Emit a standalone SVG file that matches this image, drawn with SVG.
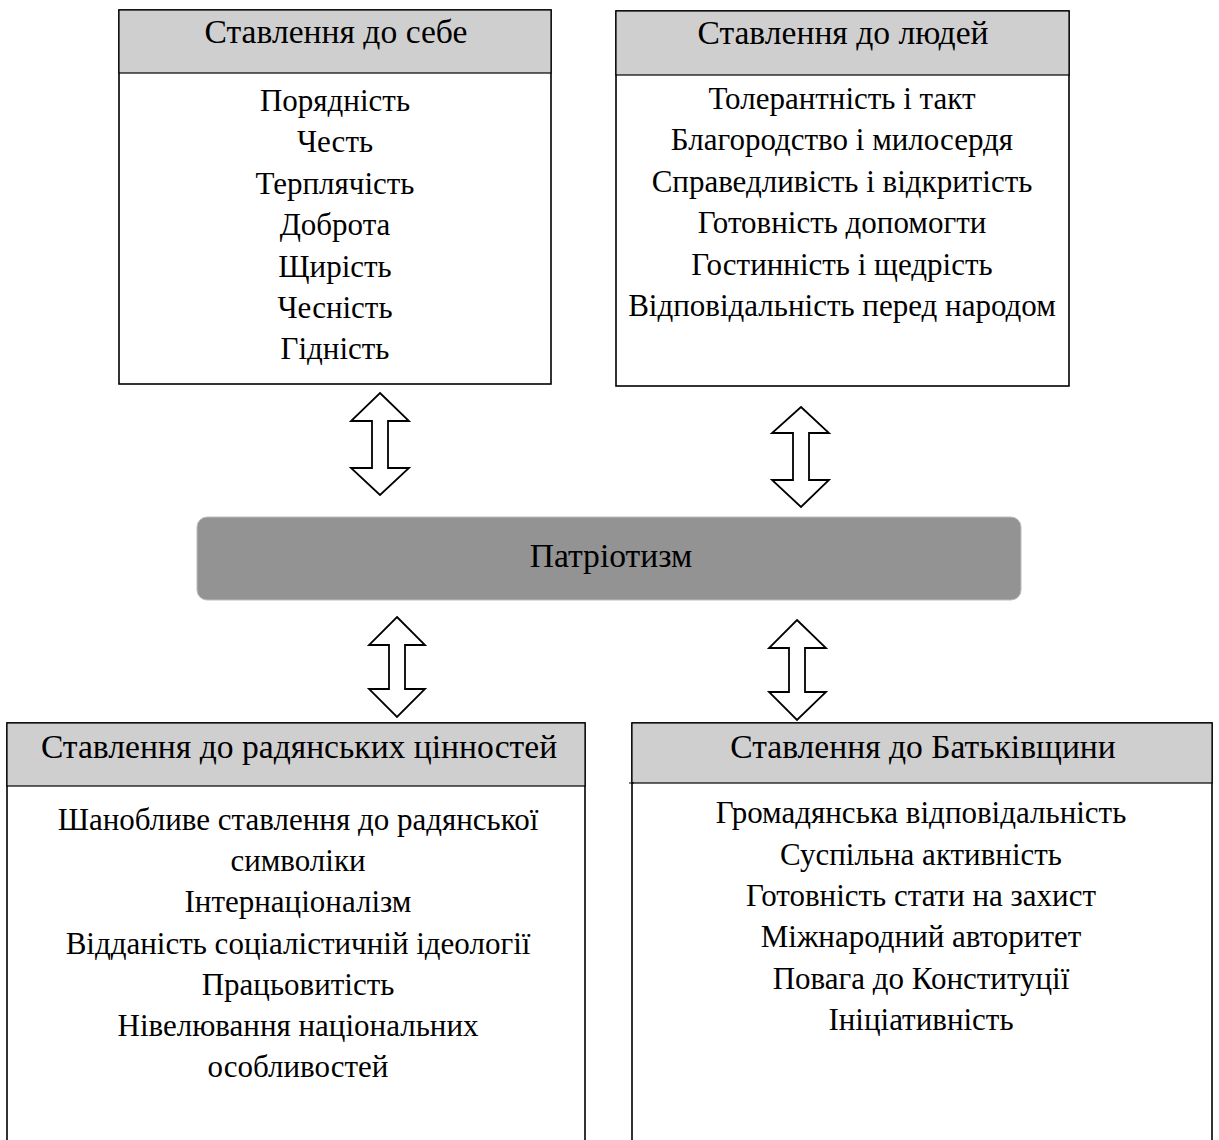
<svg xmlns="http://www.w3.org/2000/svg" width="1219" height="1140" viewBox="0 0 1219 1140">
<style>
.box{fill:#ffffff;stroke:#000;stroke-width:1.6}
.hdr{fill:#d0cfd0;stroke:#000;stroke-width:1.2}
.core{fill:#939393;stroke:#bdbdbd;stroke-width:1}
.arr{fill:#ffffff;stroke:#000;stroke-width:1.8;stroke-linejoin:miter}
text{font-family:"Liberation Serif","Times New Roman",serif;font-size:31px;fill:#000;text-anchor:middle}
.h{font-size:33.6px}
</style>
<g id="self">
<rect class="box" x="119" y="10" width="432" height="374"/>
<rect class="hdr" x="119" y="10" width="432" height="63"/>
<text class="h" x="336" y="43">Ставлення до себе</text>
<text x="335" y="111">Порядність</text>
<text x="335" y="152">Честь</text>
<text x="335" y="194">Терплячість</text>
<text x="335" y="235">Доброта</text>
<text x="335" y="277">Щирість</text>
<text x="335" y="318">Чесність</text>
<text x="335" y="359">Гідність</text>
</g>
<g id="people">
<rect class="box" x="616" y="11" width="453" height="375"/>
<rect class="hdr" x="616" y="11" width="453" height="64"/>
<text class="h" x="843" y="44">Ставлення до людей</text>
<text x="842" y="109">Толерантність і такт</text>
<text x="842" y="150">Благородство і милосердя</text>
<text x="842" y="192">Справедливість і відкритість</text>
<text x="842" y="233">Готовність допомогти</text>
<text x="842" y="275">Гостинність і щедрість</text>
<text x="842" y="316">Відповідальність перед народом</text>
</g>
<g id="patriotism">
<rect class="core" x="197" y="517" width="824" height="83" rx="10" ry="10"/>
<text class="h" x="611" y="567">Патріотизм</text>
</g>
<g id="soviet">
<rect class="box" x="7" y="723" width="578" height="440"/>
<rect class="hdr" x="7" y="723" width="578" height="63"/>
<text class="h" x="299" y="758">Ставлення до радянських цінностей</text>
<text x="298" y="830">Шанобливе ставлення до радянської</text>
<text x="298" y="871">символіки</text>
<text x="298" y="912">Інтернаціоналізм</text>
<text x="298" y="954">Відданість соціалістичній ідеології</text>
<text x="298" y="995">Працьовитість</text>
<text x="298" y="1036">Нівелювання національних</text>
<text x="298" y="1077">особливостей</text>
</g>
<g id="homeland">
<rect class="box" x="632" y="723" width="580" height="440"/>
<rect class="hdr" x="632" y="723" width="580" height="60"/>
<line x1="629" y1="783" x2="634" y2="783" stroke="#000" stroke-width="1"/>
<text class="h" x="923" y="758">Ставлення до Батьківщини</text>
<text x="921" y="823">Громадянська відповідальність</text>
<text x="921" y="865">Суспільна активність</text>
<text x="921" y="906">Готовність стати на захист</text>
<text x="921" y="947">Міжнародний авторитет</text>
<text x="921" y="989">Повага до Конституції</text>
<text x="921" y="1030">Ініціативність</text>
</g>
<g id="connectors">
<polygon class="arr" points="380,393 409,421 388,421 388,468 409,468 380,495 351,468 372,468 372,421 351,421"/>
<polygon class="arr" points="801,407 829,433 809,433 809,480 829,480 801,507 772,480 793,480 793,433 772,433"/>
<polygon class="arr" points="397,617 425,645 405,645 405,689 425,689 397,717 369,689 389,689 389,645 369,645"/>
<polygon class="arr" points="797,620 826,648 805,648 805,692 826,692 797,720 769,692 789,692 789,648 769,648"/>
</g>
</svg>
